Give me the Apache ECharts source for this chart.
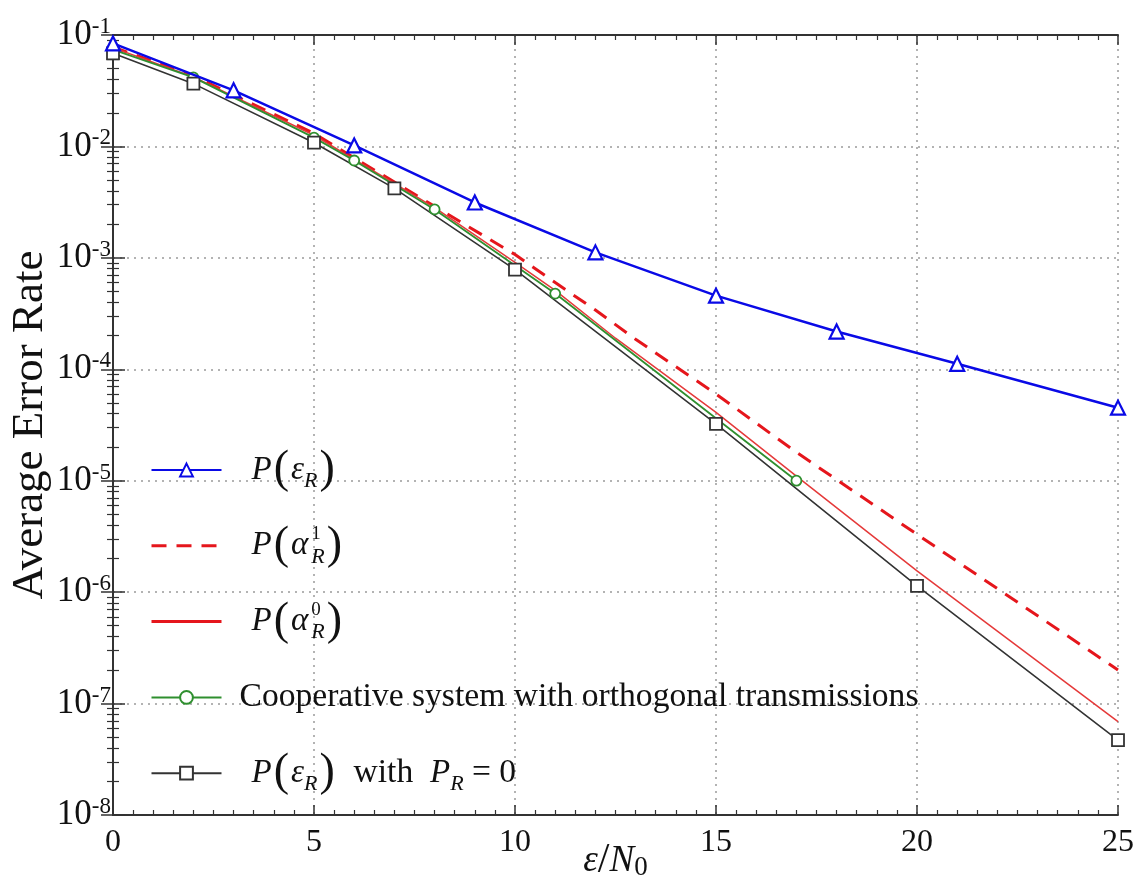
<!DOCTYPE html>
<html>
<head>
<meta charset="utf-8">
<script src="https://cdn.jsdelivr.net/npm/echarts@6/dist/echarts.min.js"></script>
<style>
html, body { margin: 0; padding: 0; background: #fff; }
#chart { width: 1144px; height: 881px; }
</style>
</head>
<body>
<div id="chart"></div>
<script>
// values (x = SNR, y = error rate)
var blueX = [0, 3, 6, 9, 12, 15, 18, 21, 25];
var blueY = [0.084, 0.0319, 0.0102, 0.00314, 0.00112, 4.58e-4, 2.18e-4, 1.12e-4, 4.52e-5];

var dashX = [0, 2, 5, 6, 8, 10, 11, 12, 13, 15, 17, 20, 25];
var dashY = [0.078, 0.043, 0.0131, 0.0079, 0.0029, 0.00107, 6.0e-4, 3.4e-4, 1.86e-4, 6.0e-5, 1.8e-5, 3.3e-6, 2.0e-7];

var solidX = [0, 2, 5, 8, 10, 11, 12.5, 15, 17, 20, 25];
var solidY = [0.077, 0.042, 0.0126, 0.00282, 9.1e-4, 5.1e-4, 1.9e-4, 4.1e-5, 1.1e-5, 1.55e-6, 6.9e-8];

var greenX = [0, 2, 5, 6, 8, 11, 17];
var greenY = [0.074, 0.0417, 0.012, 0.00748, 0.00272, 4.78e-4, 1.0e-5];

var blackX = [0, 2, 5, 7, 10, 15, 20, 25];
var blackY = [0.0685, 0.0366, 0.0108, 0.0042, 7.85e-4, 3.24e-5, 1.14e-6, 4.7e-8];

var names = [
    'P(eR)',
    'P(a1R)',
    'P(a0R)',
    'Cooperative system with orthogonal transmissions',
    'P(eR) with PR=0'
];

var legendText = {
    'P(eR)': '{w|}{i|P}{p|(}{g|ε}{sub|R}{p|)}',
    'P(a1R)': '{w|}{i|P}{p|(}{g|α}{sup0|1}{sub|R}{p|)}',
    'P(a0R)': '{w|}{i|P}{p|(}{g|α}{sup0|0}{sub|R}{p|)}',
    'Cooperative system with orthogonal transmissions': '{t|Cooperative system with orthogonal transmissions}{pz| }',
    'P(eR) with PR=0': '{w|}{i|P}{p|(}{g|ε}{sub|R}{p|)}{t|  with  }{i|P}{sub|R}{t| = 0}'
};

function pairs(xs, ys) {
    return xs.map(function (x, i) { return [x, ys[i]]; });
}

var serif = 'Liberation Serif';
var ink = '#111';

var rich = {
    w: { width: 12 },
    i: { fontFamily: serif, fontStyle: 'italic', fontSize: 33, color: ink },
    g: { fontFamily: serif, fontStyle: 'italic', fontSize: 33, color: ink },
    p: { fontFamily: serif, fontSize: 46, color: ink, padding: [0, 2, 0, 2] },
    pz: { fontFamily: serif, fontSize: 46, color: ink, width: 0 },
    sub: { fontFamily: serif, fontStyle: 'italic', fontSize: 22, color: ink, lineHeight: 22, padding: [22, 0, 0, 0] },
    sup0: { fontFamily: serif, fontSize: 19, color: ink, lineHeight: 20, padding: [0, 0, 24, 3], width: 0 },
    t: { fontFamily: serif, fontSize: 33.6, color: ink }
};

var frameLine = { show: true, lineStyle: { color: '#333', width: 2 } };
var gridDots = { show: true, lineStyle: { color: '#9a9a9a', type: [2, 5], width: 1.5 } };
var hideDot = { opacity: 0 };

var chart = echarts.init(document.getElementById('chart'));
chart.setOption({
    backgroundColor: '#fff',
    animation: false,
    grid: { left: 113, right: 26, top: 35, bottom: 66, outerBoundsMode: 'none' },
    legend: {
        orient: 'vertical',
        left: 145,
        top: 442,
        itemWidth: 70,
        itemHeight: 16,
        itemGap: 29.8,
        data: [
            { name: names[0] },
            { name: names[1], itemStyle: hideDot, lineStyle: { width: 3 } },
            { name: names[2], itemStyle: hideDot, lineStyle: { width: 3, color: '#e5161c' } },
            { name: names[3] },
            { name: names[4] }
        ],
        formatter: function (n) { return legendText[n]; },
        textStyle: { rich: rich, padding: [0, 0, 0, 13] }
    },
    xAxis: [{
        type: 'value',
        position: 'bottom',
        min: 0, max: 25, interval: 5,
        name: '{g|ε}{n|/}{i|N}{s|0}',
        nameLocation: 'middle',
        nameGap: 26,
        nameMoveOverlap: false,
        nameTextStyle: {
            rich: {
                g: { fontFamily: serif, fontStyle: 'italic', fontSize: 37, color: ink, lineHeight: 40 },
                n: { fontFamily: serif, fontSize: 42, color: ink, lineHeight: 40 },
                i: { fontFamily: serif, fontStyle: 'italic', fontSize: 37, color: ink, lineHeight: 40 },
                s: { fontFamily: serif, fontSize: 27, color: ink, lineHeight: 26, padding: [14, 0, 0, 0] }
            }
        },
        axisLine: frameLine,
        axisTick: { inside: true, length: 10, lineStyle: { color: '#333', width: 1.5 } },
        minorTick: { show: true, splitNumber: 10, length: 5, lineStyle: { color: '#333', width: 1.2 } },
        axisLabel: { fontFamily: serif, fontSize: 32, color: ink, margin: 12 },
        splitLine: gridDots
    }, {
        type: 'value',
        position: 'top',
        min: 0, max: 25, interval: 5,
        axisLine: frameLine,
        axisTick: { inside: true, length: 10, lineStyle: { color: '#333', width: 1.5 } },
        minorTick: { show: true, splitNumber: 10, length: 5, lineStyle: { color: '#333', width: 1.2 } },
        axisLabel: { show: false },
        splitLine: { show: false }
    }],
    yAxis: [{
        type: 'log',
        logBase: 10,
        position: 'left',
        min: 1e-8, max: 1e-1,
        splitNumber: 7,
        name: 'Average Error Rate',
        nameLocation: 'middle',
        nameGap: 60,
        nameMoveOverlap: false,
        nameTextStyle: { fontFamily: serif, fontSize: 45, color: ink },
        axisLine: frameLine,
        axisTick: { inside: true, length: 12, lineStyle: { color: '#333', width: 1.5 } },
        minorTick: { show: true, splitNumber: 9, length: 6, lineStyle: { color: '#333', width: 1.2 } },
        axisLabel: {
            margin: 2,
            formatter: function (v) {
                return '{b|10}{s|' + Math.round(Math.log10(v)) + '}';
            },
            rich: {
                b: { fontFamily: serif, fontSize: 35, color: ink, lineHeight: 40 },
                s: { fontFamily: serif, fontSize: 23, color: ink, lineHeight: 24, padding: [0, 0, 16, 0] }
            }
        },
        splitLine: gridDots
    }, {
        type: 'log',
        logBase: 10,
        position: 'right',
        min: 1e-8, max: 1e-1,
        splitNumber: 7,
        axisLine: frameLine,
        axisTick: { inside: true, length: 12, lineStyle: { color: '#333', width: 1.5 } },
        minorTick: { show: true, splitNumber: 9, length: 6, lineStyle: { color: '#333', width: 1.2 } },
        axisLabel: { show: false },
        splitLine: { show: false }
    }],
    series: [{
        name: names[0],
        type: 'line',
        data: pairs(blueX, blueY),
        symbol: 'triangle',
        symbolSize: 14,
        showAllSymbol: true,
        itemStyle: { color: '#fff', borderColor: '#0a0ae6', borderWidth: 2.2 },
        lineStyle: { color: '#0a0ae6', width: 2.5 },
        z: 5
    }, {
        name: names[1],
        type: 'line',
        data: pairs(dashX, dashY),
        symbol: 'none',
        itemStyle: { color: '#e5161c' },
        lineStyle: { color: '#e5161c', width: 3, type: [15, 10] },
        z: 3
    }, {
        name: names[2],
        type: 'line',
        data: pairs(solidX, solidY),
        symbol: 'none',
        itemStyle: { color: '#e5161c' },
        lineStyle: { color: '#e53a3a', width: 1.5 },
        z: 3
    }, {
        name: names[3],
        type: 'line',
        data: greenX.map(function (x, i) {
            var d = { value: [x, greenY[i]] };
            if (i === 0) d.symbol = 'none';
            return d;
        }),
        symbol: 'circle',
        symbolSize: 10,
        showAllSymbol: true,
        itemStyle: { color: '#fff', borderColor: '#2f8f2f', borderWidth: 1.8 },
        lineStyle: { color: '#2f8f2f', width: 1.8 },
        z: 4
    }, {
        name: names[4],
        type: 'line',
        data: pairs(blackX, blackY),
        symbol: 'rect',
        symbolSize: 12,
        showAllSymbol: true,
        itemStyle: { color: '#fff', borderColor: '#333', borderWidth: 1.8 },
        lineStyle: { color: '#333', width: 1.6 },
        z: 4
    }]
});
</script>
</body>
</html>
